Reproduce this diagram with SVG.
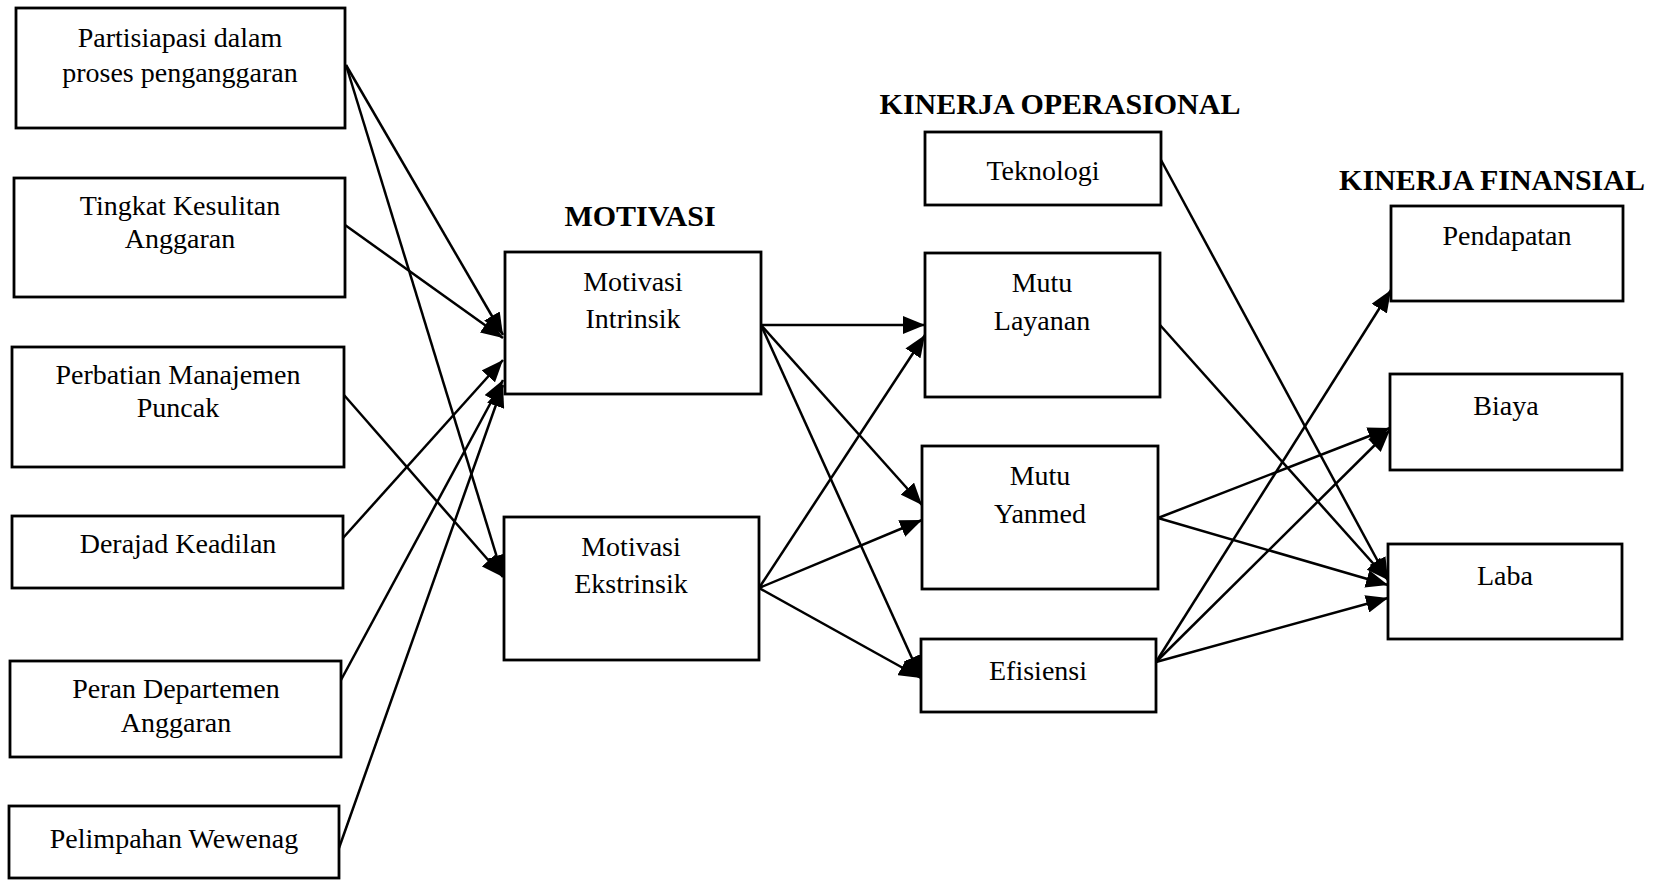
<svg xmlns="http://www.w3.org/2000/svg" width="1660" height="881" viewBox="0 0 1660 881">
  <style>
    .box { fill: #ffffff; stroke: #000000; stroke-width: 2.8; }
    .lbl { font-family: "Liberation Serif", "Times New Roman", serif; font-size: 28px; fill: #000000; text-anchor: middle; }
    .ttl { font-family: "Liberation Serif", "Times New Roman", serif; font-size: 30px; font-weight: bold; fill: #000000; text-anchor: middle; }
    .edge { stroke: #000000; stroke-width: 2.5; fill: none; marker-end: url(#arrow); }
  </style>
  <defs>
    <marker id="arrow" markerUnits="userSpaceOnUse" markerWidth="24" markerHeight="18" refX="22" refY="9" orient="auto">
      <path d="M0,0 L22,9 L0,18 z" fill="#000000"/>
    </marker>
  </defs>

  <rect width="1660" height="881" fill="#ffffff"/>

  <!-- group titles -->
  <g id="titles">
    <text class="ttl" x="640" y="226">MOTIVASI</text>
    <text class="ttl" x="1060" y="114">KINERJA OPERASIONAL</text>
    <text class="ttl" x="1492" y="190">KINERJA FINANSIAL</text>
  </g>

  <!-- connectors -->
  <g id="connectors">
    <line class="edge" x1="346" y1="65" x2="503" y2="335"/>
    <line class="edge" x1="346" y1="65" x2="503" y2="577"/>
    <line class="edge" x1="345" y1="225" x2="503" y2="338"/>
    <line class="edge" x1="344" y1="395" x2="503" y2="577"/>
    <line class="edge" x1="343" y1="538" x2="503" y2="360"/>
    <line class="edge" x1="341" y1="680" x2="503" y2="380"/>
    <line class="edge" x1="339" y1="848" x2="503" y2="385"/>

    <line class="edge" x1="761" y1="325" x2="925" y2="325"/>
    <line class="edge" x1="761" y1="325" x2="922" y2="505"/>
    <line class="edge" x1="761" y1="325" x2="921" y2="678"/>
    <line class="edge" x1="759" y1="588" x2="925" y2="335"/>
    <line class="edge" x1="759" y1="588" x2="922" y2="520"/>
    <line class="edge" x1="759" y1="588" x2="921" y2="678"/>

    <line class="edge" x1="1161" y1="160" x2="1388" y2="580"/>
    <line class="edge" x1="1160" y1="325" x2="1388" y2="580"/>
    <line class="edge" x1="1158" y1="518" x2="1390" y2="428"/>
    <line class="edge" x1="1158" y1="518" x2="1388" y2="585"/>
    <line class="edge" x1="1156" y1="662" x2="1391" y2="290"/>
    <line class="edge" x1="1156" y1="662" x2="1390" y2="430"/>
    <line class="edge" x1="1156" y1="662" x2="1388" y2="598"/>
  </g>

  <!-- antecedent factors -->
  <g id="partisipasi">
    <rect class="box" x="16" y="8" width="329" height="120"/>
    <text class="lbl" x="180" y="47">Partisiapasi dalam</text>
    <text class="lbl" x="180" y="82">proses penganggaran</text>
  </g>
  <g id="kesulitan">
    <rect class="box" x="14" y="178" width="331" height="119"/>
    <text class="lbl" x="180" y="215">Tingkat Kesulitan</text>
    <text class="lbl" x="180" y="248">Anggaran</text>
  </g>
  <g id="perhatian">
    <rect class="box" x="12" y="347" width="332" height="120"/>
    <text class="lbl" x="178" y="384">Perbatian Manajemen</text>
    <text class="lbl" x="178" y="417">Puncak</text>
  </g>
  <g id="keadilan">
    <rect class="box" x="12" y="516" width="331" height="72"/>
    <text class="lbl" x="178" y="553">Derajad Keadilan</text>
  </g>
  <g id="departemen">
    <rect class="box" x="10" y="661" width="331" height="96"/>
    <text class="lbl" x="176" y="698">Peran Departemen</text>
    <text class="lbl" x="176" y="732">Anggaran</text>
  </g>
  <g id="wewenang">
    <rect class="box" x="9" y="806" width="330" height="72"/>
    <text class="lbl" x="174" y="848">Pelimpahan Wewenag</text>
  </g>

  <!-- motivation -->
  <g id="intrinsik">
    <rect class="box" x="505" y="252" width="256" height="142"/>
    <text class="lbl" x="633" y="291">Motivasi</text>
    <text class="lbl" x="633" y="328">Intrinsik</text>
  </g>
  <g id="ekstrinsik">
    <rect class="box" x="504" y="517" width="255" height="143"/>
    <text class="lbl" x="631" y="556">Motivasi</text>
    <text class="lbl" x="631" y="593">Ekstrinsik</text>
  </g>

  <!-- operational performance -->
  <g id="teknologi">
    <rect class="box" x="925" y="132" width="236" height="73"/>
    <text class="lbl" x="1043" y="180">Teknologi</text>
  </g>
  <g id="layanan">
    <rect class="box" x="925" y="253" width="235" height="144"/>
    <text class="lbl" x="1042" y="292">Mutu</text>
    <text class="lbl" x="1042" y="330">Layanan</text>
  </g>
  <g id="yanmed">
    <rect class="box" x="922" y="446" width="236" height="143"/>
    <text class="lbl" x="1040" y="485">Mutu</text>
    <text class="lbl" x="1040" y="523">Yanmed</text>
  </g>
  <g id="efisiensi">
    <rect class="box" x="921" y="639" width="235" height="73"/>
    <text class="lbl" x="1038" y="680">Efisiensi</text>
  </g>

  <!-- financial performance -->
  <g id="pendapatan">
    <rect class="box" x="1391" y="206" width="232" height="95"/>
    <text class="lbl" x="1507" y="245">Pendapatan</text>
  </g>
  <g id="biaya">
    <rect class="box" x="1390" y="374" width="232" height="96"/>
    <text class="lbl" x="1506" y="415">Biaya</text>
  </g>
  <g id="laba">
    <rect class="box" x="1388" y="544" width="234" height="95"/>
    <text class="lbl" x="1505" y="585">Laba</text>
  </g>
</svg>
